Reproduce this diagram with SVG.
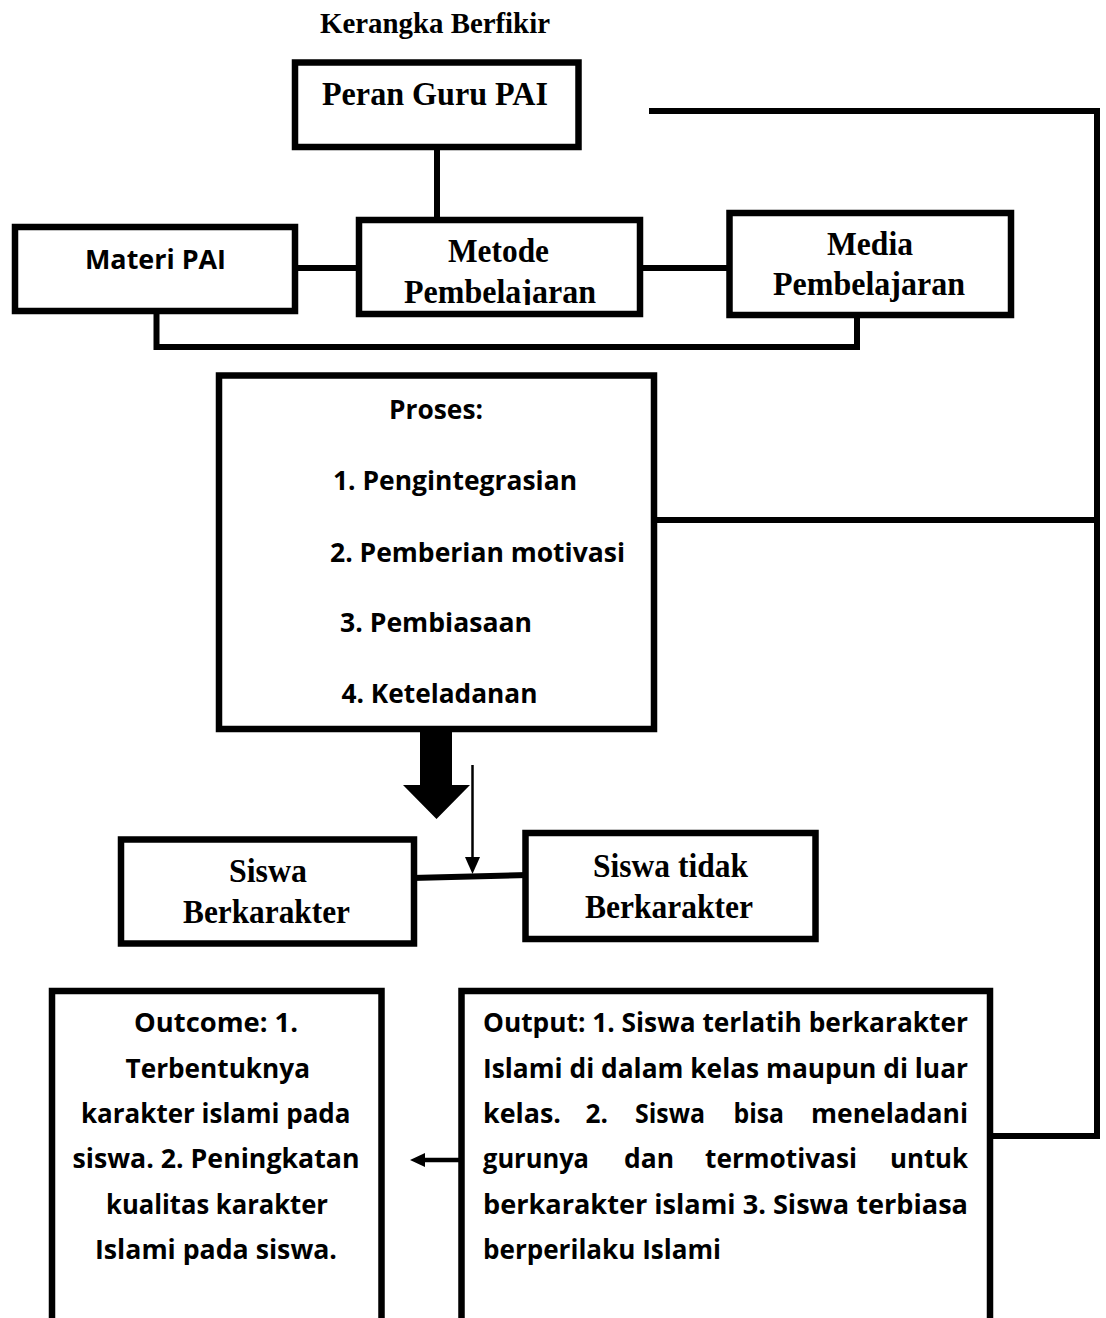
<svg xmlns="http://www.w3.org/2000/svg" width="1106" height="1318" viewBox="0 0 1106 1318">
<style>
.box{fill:#fff;stroke:#000;stroke-width:6.5}
.ln{fill:none;stroke:#000;stroke-width:6;stroke-linecap:butt;stroke-linejoin:miter}
.serif{font-family:"Liberation Serif","Times New Roman",serif;font-weight:bold;font-size:33px;fill:#000}
.sans{font-family:"Open Sans",Lato,sans-serif;font-weight:bold;font-size:27px;fill:#000}
.s26{font-size:26px}
</style>
<defs>
<clipPath id="clipMetode"><rect x="362" y="222" width="275" height="83"/></clipPath>
</defs>
<rect width="1106" height="1318" fill="#fff"/>
<text class="serif" x="320" y="33" style="font-size:29px" textLength="230" lengthAdjust="spacingAndGlyphs">Kerangka Berfikir</text>

<g id="connectors">
<line class="ln" x1="437" y1="150" x2="437" y2="220"/>
<line class="ln" x1="298" y1="268" x2="365" y2="268"/>
<line class="ln" x1="643" y1="268" x2="729" y2="268"/>
<polyline class="ln" points="156.5,313 156.5,347 857,347 857,315"/>
<polyline class="ln" points="649,111 1097,111 1097,1136 993,1136"/>
<line class="ln" x1="656" y1="520" x2="1097" y2="520"/>
<polygon points="420,731 452,731 452,785 470,785 436.5,819 403,785 420,785" fill="#000"/>
<line x1="472.5" y1="765" x2="472.5" y2="858" stroke="#000" stroke-width="2.5"/>
<polygon points="465,857 480,857 472.5,874" fill="#000"/>
<line class="ln" x1="412" y1="878" x2="528" y2="875"/>
<line x1="462" y1="1160" x2="422" y2="1160" stroke="#000" stroke-width="4.5"/>
<polygon points="425,1153 425,1167 410,1160" fill="#000"/>
</g>

<g id="peran">
<rect class="box" x="295" y="62.5" width="283.5" height="84.5"/>
<text class="serif" x="322" y="105" textLength="226" lengthAdjust="spacingAndGlyphs">Peran Guru PAI</text>
</g>
<g id="materi">
<rect class="box" x="15" y="227" width="280" height="84"/>
<text class="sans s26" x="85" y="269" textLength="141" lengthAdjust="spacingAndGlyphs">Materi PAI</text>
</g>
<g id="metode">
<rect class="box" x="359" y="220" width="281" height="94"/>
<text class="serif" x="448" y="262" textLength="101" lengthAdjust="spacingAndGlyphs">Metode</text>
<text class="serif" x="404" y="303" textLength="192" lengthAdjust="spacingAndGlyphs" clip-path="url(#clipMetode)">Pembelajaran</text>
</g>
<g id="media">
<rect class="box" x="729.5" y="213" width="281.5" height="102"/>
<text class="serif" x="827" y="255" textLength="86" lengthAdjust="spacingAndGlyphs">Media</text>
<text class="serif" x="773" y="295" textLength="192" lengthAdjust="spacingAndGlyphs">Pembelajaran</text>
</g>
<g id="proses">
<rect class="box" x="219" y="375.5" width="435" height="353.5"/>
<text class="sans" x="389" y="419" textLength="94" lengthAdjust="spacingAndGlyphs">Proses:</text>
<text class="sans" x="333" y="490" textLength="244" lengthAdjust="spacingAndGlyphs">1. Pengintegrasian</text>
<text class="sans" x="330" y="561.5" textLength="295" lengthAdjust="spacingAndGlyphs">2. Pemberian motivasi</text>
<text class="sans" x="340" y="632" textLength="192" lengthAdjust="spacingAndGlyphs">3. Pembiasaan</text>
<text class="sans" x="341.5" y="703" textLength="196" lengthAdjust="spacingAndGlyphs">4. Keteladanan</text>
</g>
<g id="siswa-berkarakter">
<rect class="box" x="121" y="839.5" width="293" height="104"/>
<text class="serif" x="229" y="882" textLength="78" lengthAdjust="spacingAndGlyphs">Siswa</text>
<text class="serif" x="183" y="923" textLength="167" lengthAdjust="spacingAndGlyphs">Berkarakter</text>
</g>
<g id="siswa-tidak">
<rect class="box" x="525.5" y="833" width="290" height="106"/>
<text class="serif" x="593" y="877" textLength="155" lengthAdjust="spacingAndGlyphs">Siswa tidak</text>
<text class="serif" x="585" y="918" textLength="168" lengthAdjust="spacingAndGlyphs">Berkarakter</text>
</g>
<g id="outcome">
<rect class="box" x="52" y="991" width="329.5" height="400"/>
<text class="sans s26" x="134" y="1032" textLength="164" lengthAdjust="spacingAndGlyphs">Outcome: 1.</text>
<text class="sans s26" x="125.5" y="1077.5" textLength="184.5" lengthAdjust="spacingAndGlyphs">Terbentuknya</text>
<text class="sans s26" x="81" y="1123" textLength="269.5" lengthAdjust="spacingAndGlyphs">karakter islami pada</text>
<text class="sans s26" x="72.5" y="1168" textLength="287" lengthAdjust="spacingAndGlyphs">siswa. 2. Peningkatan</text>
<text class="sans s26" x="106" y="1214" textLength="222" lengthAdjust="spacingAndGlyphs">kualitas karakter</text>
<text class="sans s26" x="95" y="1259" textLength="242" lengthAdjust="spacingAndGlyphs">Islami pada siswa.</text>
</g>
<g id="output">
<rect class="box" x="461.5" y="991" width="528.5" height="400"/>
<text class="sans s26" x="483" y="1032" textLength="485" lengthAdjust="spacingAndGlyphs">Output: 1. Siswa terlatih berkarakter</text>
<text class="sans s26" x="483" y="1077.5" textLength="485" lengthAdjust="spacingAndGlyphs">Islami di dalam kelas maupun di luar</text>
<text class="sans s26" x="483" y="1123" textLength="78" lengthAdjust="spacingAndGlyphs">kelas.</text>
<text class="sans s26" x="585.5" y="1123" textLength="22.5" lengthAdjust="spacingAndGlyphs">2.</text>
<text class="sans s26" x="635" y="1123" textLength="70" lengthAdjust="spacingAndGlyphs">Siswa</text>
<text class="sans s26" x="733.5" y="1123" textLength="50.5" lengthAdjust="spacingAndGlyphs">bisa</text>
<text class="sans s26" x="811" y="1123" textLength="157" lengthAdjust="spacingAndGlyphs">meneladani</text>
<text class="sans s26" x="483" y="1168" textLength="106" lengthAdjust="spacingAndGlyphs">gurunya</text>
<text class="sans s26" x="624" y="1168" textLength="50" lengthAdjust="spacingAndGlyphs">dan</text>
<text class="sans s26" x="705" y="1168" textLength="152" lengthAdjust="spacingAndGlyphs">termotivasi</text>
<text class="sans s26" x="890" y="1168" textLength="78" lengthAdjust="spacingAndGlyphs">untuk</text>
<text class="sans s26" x="483" y="1214" textLength="485" lengthAdjust="spacingAndGlyphs">berkarakter islami 3. Siswa terbiasa</text>
<text class="sans s26" x="483" y="1259" textLength="238" lengthAdjust="spacingAndGlyphs">berperilaku Islami</text>
</g>
</svg>
